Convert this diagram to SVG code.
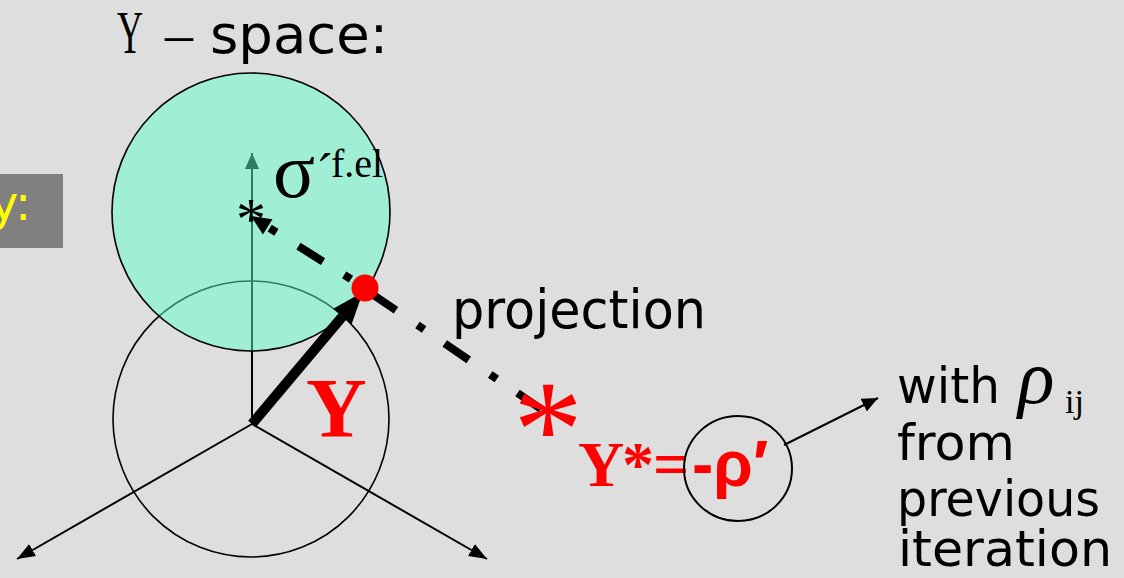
<svg xmlns="http://www.w3.org/2000/svg" width="1124" height="578" viewBox="0 0 1124 578">
<defs>
<style>
.serif{font-family:"Liberation Serif","Times New Roman",serif}
.sans{font-family:"DejaVu Sans","Liberation Sans",sans-serif}
.arial{font-family:"Liberation Sans",Arial,sans-serif}
.ax{stroke:#000;stroke-width:2;fill:none}
.dd{stroke:#000;stroke-width:8;fill:none;stroke-dasharray:29 26 8 25}
</style>
<marker id="ah" viewBox="0 0 18 14" refX="18" refY="7" markerWidth="18" markerHeight="14" markerUnits="userSpaceOnUse" orient="auto">
<path d="M0,0 L18,7 L0,14 Z" fill="#000"/>
</marker>
<marker id="ahs" viewBox="0 0 16 14" refX="16" refY="7" markerWidth="16" markerHeight="14" markerUnits="userSpaceOnUse" orient="auto">
<path d="M0,0 L16,7 L0,14 Z" fill="#000"/>
</marker>
</defs>
<rect width="1124" height="578" fill="#DEDEDE"/>

<g id="title">
<text class="serif" x="117" y="53" font-size="62" textLength="26" lengthAdjust="spacingAndGlyphs">Y</text>
<text class="serif" x="165" y="53" font-size="56">–</text>
<text class="sans" x="210" y="53" font-size="54" textLength="178" lengthAdjust="spacingAndGlyphs">space:</text>
</g>

<g id="side-tab">
<rect x="0" y="174" width="63" height="74" fill="#808080"/>
<text class="sans" x="-10" y="220" font-size="48" fill="#FFFF00">y:</text>
</g>

<g id="axes">
<line class="ax" x1="252" y1="424" x2="252" y2="153" marker-end="url(#ahs)"/>
<line class="ax" x1="252" y1="424" x2="17" y2="559" marker-end="url(#ah)"/>
<line class="ax" x1="252" y1="424" x2="487" y2="559" marker-end="url(#ah)"/>
</g>

<g id="lower-circle">
<circle cx="251" cy="419" r="138" fill="none" stroke="#000" stroke-width="1.6"/>
</g>

<g id="green-circle">
<circle cx="251" cy="212" r="139" fill="rgb(94,255,204)" fill-opacity="0.49" stroke="#000" stroke-width="1.6"/>
</g>

<g id="connectors">
<line x1="252" y1="424" x2="342.4" y2="316.5" stroke="#000" stroke-width="10"/>
<polygon points="363,292 351.6,324.2 333.2,308.8" fill="#000"/>
<path class="dd" d="M365,288 L268,227" stroke-dashoffset="38.4"/>
<polygon points="251,216 272.5,219.2 262.9,234.4" fill="#000"/>
<path class="dd" d="M372,294 L541,409"/>
<line x1="784" y1="445" x2="878" y2="398" stroke="#000" stroke-width="2" marker-end="url(#ahs)"/>
</g>

<g id="red-dot">
<circle cx="365" cy="288" r="13.5" fill="#FF0000"/>
</g>

<g id="star-black">
<text class="serif" x="251" y="239" font-size="60" text-anchor="middle">*</text>
</g>

<g id="sigma-label">
<text class="serif" x="273" y="197" font-size="78">σ</text>
<text class="serif" x="316" y="190" font-size="52">´</text>
<text class="serif" x="331" y="177" font-size="40">f.el</text>
</g>

<g id="projection-label">
<text class="sans" x="452" y="328" font-size="54" textLength="254" lengthAdjust="spacingAndGlyphs">projection</text>
</g>

<g id="Y-label">
<text class="serif" x="306" y="437" font-size="84" font-weight="bold" fill="#FF0000">Y</text>
</g>

<g id="star-red">
<text class="serif" x="548" y="476" font-size="140" text-anchor="middle" fill="#FF0000">*</text>
</g>

<g id="ystar-label">
<text y="486" font-size="64" fill="#FF0000"><tspan class="serif" x="578" font-weight="bold">Y</tspan><tspan class="serif" x="622" font-weight="bold">*</tspan><tspan class="serif" x="653" font-weight="bold">=</tspan><tspan class="arial" x="692" font-weight="bold">-ρ′</tspan></text>
</g>

<g id="small-circle">
<ellipse cx="738" cy="468.5" rx="54" ry="52.5" fill="none" stroke="#000" stroke-width="2"/>
</g>

<g id="note">
<text class="sans" x="897" y="403" font-size="50" textLength="103" lengthAdjust="spacingAndGlyphs">with</text>
<text class="serif" x="1018" y="403" font-size="76" font-style="italic">ρ</text>
<text class="serif" x="1065" y="413" font-size="34">ij</text>
<text class="sans" x="897" y="460" font-size="50" textLength="118" lengthAdjust="spacingAndGlyphs">from</text>
<text class="sans" x="897" y="516" font-size="50" textLength="203" lengthAdjust="spacingAndGlyphs">previous</text>
<text class="sans" x="898" y="566" font-size="50" textLength="214" lengthAdjust="spacingAndGlyphs">iteration</text>
</g>
</svg>
